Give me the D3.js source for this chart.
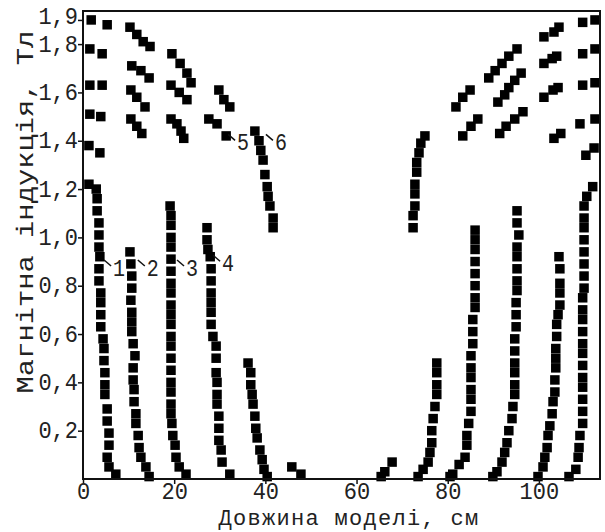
<!DOCTYPE html>
<html>
<head>
<meta charset="utf-8">
<script src="https://cdn.jsdelivr.net/npm/d3@7"></script>
<style>
  html, body { margin: 0; padding: 0; background: #fff; }
  svg { display: block; }
</style>
</head>
<body>
<svg id="chart" width="605" height="532"></svg>
<script>
// ---------- DATA (x: cm, y: T) ----------
const xTicks = [0, 20, 40, 60, 80, 100];
const yTicks = [0.2, 0.4, 0.6, 0.8, 1.0, 1.2, 1.4, 1.6, 1.8, 1.9];
const xTitle = "Довжина моделі, см";
const yTitle = "Магнітна індукція, Тл";

const curve1 = [[1.3,1.22],[2.9,1.20],[3.1,1.16],[3.1,1.11],[3.5,1.06],[3.5,1.01],[3.5,0.96],[3.7,0.92],[3.5,0.87],[3.5,0.82],[3.9,0.77],[3.9,0.73],[3.9,0.68],[3.9,0.63],[4.4,0.58],[4.6,0.54],[4.6,0.49],[4.8,0.44],[4.8,0.39],[4.8,0.35],[5.3,0.29],[5.3,0.24],[5.7,0.19],[5.7,0.14],[5.3,0.09],[5.7,0.05],[7.2,0.02]];
const curve2 = [[10.3,0.94],[10.5,0.89],[10.7,0.84],[10.7,0.79],[10.5,0.74],[10.7,0.69],[10.7,0.65],[10.7,0.61],[11.0,0.56],[11.4,0.51],[11.0,0.46],[11.0,0.41],[11.2,0.37],[11.2,0.32],[11.6,0.27],[11.6,0.23],[12.1,0.18],[12.3,0.13],[12.7,0.09],[13.8,0.05],[14.5,0.01]];
const curve3 = [[19.1,1.13],[19.3,1.09],[19.3,1.05],[19.3,1.00],[19.3,0.96],[19.3,0.91],[19.3,0.86],[19.3,0.81],[19.3,0.77],[19.3,0.72],[19.3,0.68],[19.3,0.64],[19.3,0.59],[19.3,0.55],[19.3,0.50],[19.3,0.45],[19.3,0.40],[19.3,0.36],[19.3,0.31],[19.3,0.27],[19.5,0.23],[19.7,0.18],[20.2,0.14],[20.4,0.09],[21.1,0.05],[22.6,0.02]];
const curve4 = [[27.2,1.04],[27.2,0.99],[27.4,0.95],[27.9,0.92],[28.1,0.87],[28.1,0.82],[28.1,0.77],[28.1,0.73],[28.1,0.69],[28.1,0.64],[28.5,0.59],[29.2,0.55],[29.2,0.50],[29.2,0.44],[29.4,0.40],[29.4,0.35],[29.4,0.31],[29.8,0.26],[29.8,0.21],[29.8,0.16],[30.3,0.12],[30.5,0.07],[32.2,0.02]];
const curve5 = [[36.2,0.48],[36.8,0.44],[36.8,0.39],[37.1,0.35],[37.3,0.31],[37.7,0.26],[37.9,0.21],[38.2,0.17],[38.8,0.12],[39.3,0.08],[39.7,0.04],[40.4,0.01]];
const curve6 = [[37.7,1.44],[38.6,1.40],[39.0,1.36],[39.5,1.32],[39.9,1.26],[40.4,1.21],[40.6,1.17],[41.0,1.13],[41.7,1.08],[41.7,1.04]];
const bottomMid1 = [[45.8,0.05],[47.8,0.02]];
const bottomMid2 = [[65.4,0.01],[66.2,0.03],[67.8,0.07]];
const curveAUpper = [[72.4,1.04],[72.4,1.09],[72.8,1.13],[72.8,1.18],[72.8,1.22],[73.2,1.27],[73.2,1.31],[73.7,1.35],[74.1,1.39],[75.0,1.42]];
const curveA = [[77.6,0.48],[77.6,0.44],[77.6,0.39],[77.6,0.35],[77.2,0.30],[76.8,0.25],[76.5,0.20],[76.5,0.15],[76.1,0.11],[75.7,0.07],[74.6,0.04],[73.5,0.01]];
const curveB = [[86.0,1.03],[86.0,0.99],[86.0,0.95],[86.0,0.90],[86.0,0.85],[86.0,0.80],[86.0,0.75],[86.0,0.71],[85.5,0.66],[85.5,0.61],[85.5,0.56],[85.1,0.51],[85.1,0.46],[85.1,0.42],[85.1,0.37],[85.1,0.33],[85.1,0.28],[84.6,0.23],[84.2,0.18],[84.2,0.14],[83.8,0.09],[82.5,0.06],[81.1,0.02],[80.5,0.01]];
const curveC = [[95.2,1.11],[95.2,1.06],[95.6,1.01],[95.2,0.96],[95.2,0.92],[95.2,0.87],[95.2,0.82],[95.2,0.78],[95.0,0.73],[95.0,0.68],[95.0,0.63],[94.7,0.58],[94.7,0.53],[94.7,0.48],[94.7,0.44],[94.7,0.39],[94.7,0.35],[94.3,0.30],[94.1,0.25],[93.4,0.20],[93.0,0.15],[92.5,0.11],[91.9,0.07],[90.8,0.03],[89.9,0.01]];
const curveD = [[104.4,0.92],[104.6,0.87],[104.6,0.81],[104.6,0.77],[104.6,0.72],[104.2,0.68],[103.9,0.64],[103.9,0.59],[103.7,0.54],[103.7,0.50],[103.7,0.46],[103.5,0.41],[103.5,0.36],[103.1,0.32],[102.9,0.27],[102.4,0.22],[102.0,0.18],[101.8,0.13],[101.3,0.09],[100.9,0.05],[99.8,0.01]];
const curveE = [[111.8,1.21],[110.5,1.17],[109.9,1.13],[109.9,1.08],[109.9,1.04],[109.9,0.99],[109.9,0.94],[109.9,0.89],[109.9,0.84],[109.9,0.79],[109.6,0.75],[109.6,0.70],[109.6,0.66],[109.6,0.61],[109.6,0.56],[109.6,0.52],[109.6,0.47],[109.6,0.42],[109.6,0.38],[109.6,0.33],[109.6,0.28],[109.6,0.23],[109.0,0.18],[108.8,0.13],[108.6,0.09],[108.1,0.04],[106.6,0.01]];
const leftColumn = [[1.8,1.90],[5.3,1.88],[1.5,1.78],[4.2,1.76],[1.5,1.63],[4.2,1.63],[1.5,1.51],[3.9,1.50],[1.3,1.38],[3.7,1.35]];
const rightColumn = [[109.6,1.89],[112.3,1.90],[109.6,1.76],[112.3,1.78],[109.6,1.63],[112.3,1.64],[109.0,1.47],[112.3,1.49],[110.3,1.34],[112.1,1.37]];
const upperLeftSegments = [
  [[10.3,1.87],[11.8,1.84],[13.2,1.81],[14.7,1.79]],
  [[19.5,1.76],[21.3,1.72],[22.8,1.68],[23.7,1.64]],
  [[10.7,1.71],[12.7,1.69],[14.5,1.66]],
  [[10.5,1.61],[11.8,1.58],[13.6,1.54]],
  [[19.3,1.63],[21.1,1.60],[22.8,1.57]],
  [[29.8,1.61],[30.9,1.57],[32.2,1.54]],
  [[10.5,1.49],[11.8,1.46],[12.9,1.43]],
  [[19.3,1.49],[20.6,1.47],[21.5,1.44],[22.1,1.41]],
  [[27.6,1.49],[29.4,1.47],[31.4,1.42]]
];
const upperRightSegments = [
  [[101.1,1.83],[103.3,1.85],[104.4,1.87]],
  [[89.0,1.66],[90.4,1.69],[91.9,1.72],[93.4,1.75],[95.2,1.78]],
  [[81.8,1.54],[83.3,1.58],[84.9,1.61]],
  [[91.0,1.56],[92.5,1.59],[93.4,1.62],[94.7,1.65],[96.1,1.68]],
  [[101.1,1.58],[103.1,1.61],[104.2,1.62]],
  [[101.1,1.72],[102.9,1.74],[103.9,1.75]],
  [[83.3,1.42],[85.1,1.46],[86.6,1.49]],
  [[91.4,1.43],[92.8,1.46],[94.7,1.49],[96.5,1.52]],
  [[103.3,1.41],[104.8,1.43]]
];
const curveLabels = ["1", "2", "3", "4", "5", "6"];
const curveLabelX = [6.6, 14.0, 22.6, 30.5, 33.8, 42.1];
const curveLabelY = [0.84, 0.84, 0.84, 0.86, 1.36, 1.36];

// ---------- LAYOUT ----------
const svg = d3.select("#chart");
const L = 83, R = 600, T = 11, B = 479;
const FONT = "'Liberation Mono', 'DejaVu Sans Mono', monospace";
const VS = 1.2; // vertical stretch of the glyphs
const INK = "#222";

const x = d3.scaleLinear().domain([0, 113.4]).range([L, R]);
const y = d3.scaleLinear().domain([0, 1.937]).range([B, T]);

svg.append("rect").attr("width", 605).attr("height", 532).attr("fill", "#fff");

// markers
const allPoints = [].concat(
  curve1, curve2, curve3, curve4, curve5, curve6,
  bottomMid1, bottomMid2, curveAUpper, curveA, curveB, curveC, curveD, curveE,
  leftColumn, rightColumn, ...upperLeftSegments, ...upperRightSegments
);
const S = 9.5;
svg.append("g").selectAll("rect")
  .data(allPoints)
  .join("rect")
  .attr("x", d => x(d[0]) - S / 2)
  .attr("y", d => y(d[1]) - S / 2)
  .attr("width", S)
  .attr("height", S)
  .attr("fill", "#000");

// frame
svg.append("rect")
  .attr("x", L).attr("y", T).attr("width", R - L).attr("height", B - T)
  .attr("fill", "none").attr("stroke", "#111").attr("stroke-width", 2);

// axes
const fmt = d => d3.format(".1f")(d).replace(".", ",");
const yAxis = svg.append("g").attr("transform", `translate(${L},0)`)
  .call(d3.axisLeft(y).tickValues(yTicks).tickFormat(fmt).tickSize(5).tickPadding(0));
const xAxis = svg.append("g").attr("transform", `translate(0,${B})`)
  .call(d3.axisBottom(x).tickValues(xTicks).tickFormat(d3.format("d")).tickSize(5).tickPadding(0));

[yAxis, xAxis].forEach(g => {
  g.select(".domain").remove();
  g.selectAll(".tick line").attr("stroke", "#111").attr("stroke-width", 1.5);
  g.selectAll(".tick text")
    .attr("fill", INK)
    .style("font-family", FONT)
    .style("font-size", "22px");
});
const YVS = 1.08;
yAxis.selectAll(".tick text").attr("x", -5).attr("dy", "0.3em")
  .attr("y", d => (d === 1.9 ? -3.6 : 0) / YVS)
  .attr("transform", `scale(1,${YVS})`);
// x tick labels: baseline ~20px below the axis
const XVS = 1.05;
xAxis.selectAll(".tick text").attr("y", 20.5 / XVS).attr("dy", 0)
  .attr("transform", `scale(1,${XVS})`);

// axis titles
svg.append("text")
  .attr("transform", `translate(349,524.8)`)
  .attr("text-anchor", "middle")
  .attr("fill", INK)
  .style("font-family", FONT).style("font-size", "22px")
  .style("letter-spacing", "1.3px")
  .text(xTitle);
svg.append("text")
  .attr("transform", `translate(33,212) rotate(-90) scale(${VS},1)`)
  .attr("text-anchor", "middle")
  .attr("fill", INK)
  .style("font-family", FONT).style("font-size", "24px")
  .text(yTitle);

// curve labels with leader ticks
const lg = svg.append("g");
curveLabels.forEach((t, i) => {
  const px = x(curveLabelX[i]), py = y(curveLabelY[i]);
  lg.append("line")
    .attr("x1", px - 9).attr("y1", py - 16)
    .attr("x2", px - 2).attr("y2", py - 10)
    .attr("stroke", "#111").attr("stroke-width", 1.5);
  lg.append("text")
    .attr("transform", `translate(${px},${py}) scale(1,${VS})`)
    .attr("fill", INK)
    .style("font-family", FONT).style("font-size", "20px")
    .text(t);
});
</script>
</body>
</html>
